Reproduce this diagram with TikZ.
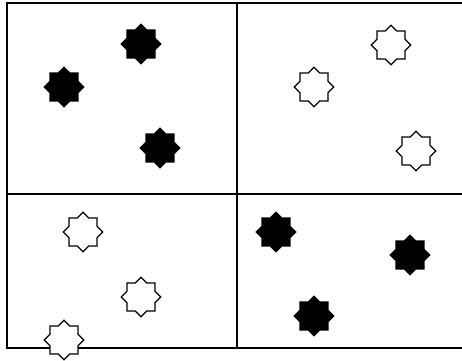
\documentclass[tikz,border=0pt]{standalone}
\usetikzlibrary{shapes.geometric}

\begin{document}
\begin{tikzpicture}[
  x=1pt, y=-1pt,
  grid/.style={line width=1.8pt, line cap=rect},
  starbase/.style={star, star points=8, star point ratio=1.307, minimum size=39.5pt, inner sep=0pt, line width=1.1pt, draw=black},
  full/.style={starbase, fill=black},
  empty/.style={starbase, fill=white}
]
\useasboundingbox (0,0) rectangle (462,360);
% frame and dividers
\draw[grid] (7,3) -- (462,3);
\draw[grid] (7,194) -- (462,194);
\draw[grid] (7,348) -- (462,348);
\draw[grid] (7,3) -- (7,348);
\draw[grid] (237,3) -- (237,348);
% top left
\node[full] (tl1) at (141,44) {};
\node[full] (tl2) at (64,87) {};
\node[full] (tl3) at (160,148) {};
% top right
\node[empty] (tr1) at (391,45) {};
\node[empty] (tr2) at (314,87) {};
\node[empty] (tr3) at (416,151) {};
% bottom left
\node[empty] (bl1) at (83,232) {};
\node[empty] (bl2) at (141,297) {};
\node[empty] (bl3) at (64,340) {};
% bottom right
\node[full] (br1) at (276,232) {};
\node[full] (br2) at (410,255) {};
\node[full] (br3) at (314,316) {};
\end{tikzpicture}
\end{document}
